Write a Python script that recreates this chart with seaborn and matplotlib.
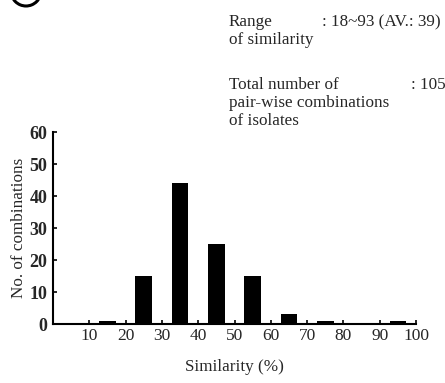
import matplotlib
matplotlib.use("Agg")
import matplotlib.pyplot as plt
from matplotlib.patches import Arc
import seaborn as sns
import pandas as pd

similarity = [15, 25, 35, 45, 55, 65, 75, 85, 95]
counts = [1, 15, 44, 25, 15, 3, 1, 0, 1]
x_ticks = [10, 20, 30, 40, 50, 60, 70, 80, 90, 100]
y_ticks = [0, 10, 20, 30, 40, 50, 60]

sns.set_style("ticks")
plt.rcParams['font.family'] = ['Liberation Serif', 'DejaVu Serif']

fig = plt.figure(figsize=(4.45, 3.83), dpi=100)
ax = fig.add_axes([0.119, 0.154, 0.816, 0.501])

df = pd.DataFrame({"Similarity": similarity, "Count": counts})
sns.barplot(data=df, x="Similarity", y="Count", native_scale=True, width=0.46,
            color="black", linewidth=0, saturation=1, ax=ax)

ax.set_xlim(0, 100)
ax.set_ylim(0, 60)
ax.set_xticks(x_ticks)
ax.set_xticklabels([str(t) for t in x_ticks], fontsize=12.5)
ax.set_yticks(y_ticks)
ax.set_yticklabels([str(t) for t in y_ticks], fontsize=13, fontweight="bold")
ax.tick_params(axis="both", direction="in", length=3, width=1.2, color="black")
ax.tick_params(axis="x", pad=3)
ax.tick_params(axis="y", pad=4)
for s in ["top", "right"]:
    ax.spines[s].set_visible(False)
for s in ["left", "bottom"]:
    ax.spines[s].set_linewidth(1.5)
    ax.spines[s].set_color("black")

ax.set_xlabel("Similarity (%)", fontsize=12.3, labelpad=11)
ax.set_ylabel("No. of combinations", fontsize=12.3, labelpad=2)

# annotations
fs = 12.3
fig.text(229/445, 1 - 22/383, "Range", fontsize=fs, va="center", ha="left")
fig.text(229/445, 1 - 40/383, "of similarity", fontsize=fs, va="center", ha="left")
fig.text(322/445, 1 - 22/383, ": 18~93 (AV.: 39)", fontsize=fs, va="center", ha="left")
fig.text(229/445, 1 - 85/383, "Total number of", fontsize=fs, va="center", ha="left")
fig.text(229/445, 1 - 103/383, "pair-wise combinations", fontsize=fs, va="center", ha="left")
fig.text(229/445, 1 - 121/383, "of isolates", fontsize=fs, va="center", ha="left")
fig.text(411/445, 1 - 85/383, ": 105", fontsize=fs, va="center", ha="left")

# partial circled label at top-left corner
arc = Arc((26/445, 1 + 9/383), 30/445, 30/383, transform=fig.transFigure,
          color="black", linewidth=2.2, clip_on=False)
fig.add_artist(arc)

fig.savefig("out.png", dpi=100)
